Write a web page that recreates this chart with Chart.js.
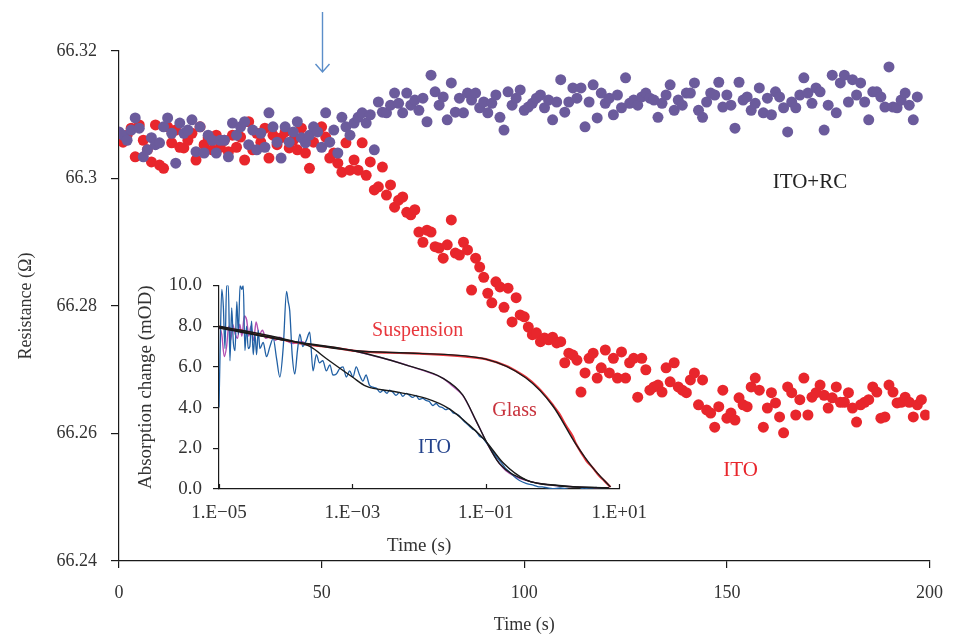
<!DOCTYPE html>
<html>
<head>
<meta charset="utf-8">
<script src="https://cdn.jsdelivr.net/npm/chart.js@4.4.1/dist/chart.umd.min.js"></script>
<style>
  html, body { margin: 0; padding: 0; background: #fff; }
  #wrap { position: relative; width: 957px; height: 637px; }
  #mainChart { position: absolute; left: 0; top: 0; }
  #insetChart { position: absolute; left: 120px; top: 263px; }
</style>
</head>
<body>
<div id="wrap">
  <canvas id="mainChart" width="957" height="637"></canvas>
  <canvas id="insetChart" width="540" height="301"></canvas>
</div>
<script>
// Main chart: resistance vs time, one reading per second
const timeS = [
  0,1,2,3,4,5,6,7,8,9,10,11,12,13,14,15,16,17,18,19,
  20,21,22,23,24,25,26,27,28,29,30,31,32,33,34,35,36,37,38,39,
  40,41,42,43,44,45,46,47,48,49,50,51,52,53,54,55,56,57,58,59,
  60,61,62,63,64,65,66,67,68,69,70,71,72,73,74,75,76,77,78,79,
  80,81,82,83,84,85,86,87,88,89,90,91,92,93,94,95,96,97,98,99,
  100,101,102,103,104,105,106,107,108,109,110,111,112,113,114,115,116,117,118,119,
  120,121,122,123,124,125,126,127,128,129,130,131,132,133,134,135,136,137,138,139,
  140,141,142,143,144,145,146,147,148,149,150,151,152,153,154,155,156,157,158,159,
  160,161,162,163,164,165,166,167,168,169,170,171,172,173,174,175,176,177,178,179,
  180,181,182,183,184,185,186,187,188,189,190,191,192,193,194,195,196,197,198,199
]

// ITO+RC (purple)
const itoRcOhm = [
  66.3073,66.3068,66.3060,66.3076,66.3095,66.3079,66.3034,66.3045,66.3064,66.3053,
  66.3056,66.3081,66.3095,66.3071,66.3024,66.3087,66.3071,66.3076,66.3092,66.3042,
  66.3081,66.3040,66.3068,66.3060,66.3040,66.3060,66.3060,66.3034,66.3087,66.3068,
  66.3081,66.3089,66.3053,66.3076,66.3045,66.3071,66.3049,66.3103,66.3081,66.3057,
  66.3032,66.3081,66.3057,66.3073,66.3089,66.3064,66.3056,66.3068,66.3081,66.3073,
  66.3049,66.3103,66.3057,66.3076,66.3040,66.3096,66.3081,66.3068,66.3087,66.3096,
  66.3103,66.3087,66.3100,66.3045,66.3120,66.3104,66.3103,66.3115,66.3134,66.3118,
  66.3103,66.3134,66.3115,66.3123,66.3107,66.3126,66.3089,66.3162,66.3136,66.3115,
  66.3128,66.3092,66.3150,66.3104,66.3126,66.3103,66.3134,66.3123,66.3134,66.3111,
  66.3120,66.3103,66.3118,66.3131,66.3096,66.3076,66.3136,66.3115,66.3126,66.3139,
  66.3107,66.3112,66.3118,66.3126,66.3131,66.3111,66.3123,66.3092,66.3120,66.3155,
  66.3104,66.3120,66.3142,66.3126,66.3142,66.3081,66.3120,66.3147,66.3095,66.3134,
  66.3118,66.3126,66.3100,66.3131,66.3111,66.3158,66.3118,66.3123,66.3115,66.3128,
  66.3134,66.3126,66.3123,66.3096,66.3118,66.3131,66.3147,66.3107,66.3123,66.3115,
  66.3134,66.3134,66.3150,66.3107,66.3096,66.3120,66.3134,66.3131,66.3151,66.3112,
  66.3131,66.3115,66.3079,66.3151,66.3123,66.3128,66.3107,66.3118,66.3142,66.3103,
  66.3126,66.3100,66.3136,66.3128,66.3111,66.3073,66.3120,66.3111,66.3131,66.3158,
  66.3134,66.3118,66.3142,66.3136,66.3076,66.3115,66.3162,66.3103,66.3150,66.3162,
  66.3120,66.3155,66.3131,66.3150,66.3120,66.3092,66.3136,66.3136,66.3128,66.3112,
  66.3175,66.3112,66.3111,66.3123,66.3134,66.3115,66.3092,66.3128
]

// ITO (red)
const itoOhm = [
  66.3064,66.3057,66.3068,66.3079,66.3034,66.3084,66.3060,66.3045,66.3026,66.3084,
  66.3021,66.3016,66.3081,66.3056,66.3076,66.3049,66.3048,66.3060,66.3071,66.3029,
  66.3081,66.3053,66.3064,66.3045,66.3068,66.3049,66.3060,66.3042,66.3068,66.3049,
  66.3065,66.3029,66.3089,66.3045,66.3071,66.3057,66.3079,66.3032,66.3068,66.3053,
  66.3064,66.3073,66.3048,66.3060,66.3045,66.3079,66.3040,66.3016,66.3057,66.3076,
  66.3081,66.3065,66.3032,66.3040,66.3024,66.3010,66.3056,66.3013,66.3029,66.3013,
  66.3056,66.3005,66.3026,66.2982,66.2987,66.3018,66.2974,66.2990,66.2955,66.2966,
  66.2971,66.2947,66.2943,66.2951,66.2916,66.2900,66.2919,66.2916,66.2893,66.2891,
  66.2875,66.2896,66.2935,66.2883,66.2880,66.2900,66.2888,66.2825,66.2875,66.2861,
  66.2845,66.2820,66.2805,66.2838,66.2830,66.2798,66.2828,66.2775,66.2813,66.2786,
  66.2783,66.2767,66.2755,66.2758,66.2744,66.2750,66.2747,66.2751,66.2742,66.2744,
  66.2711,66.2726,66.2723,66.2715,66.2665,66.2695,66.2718,66.2726,66.2687,66.2703,
  66.2731,66.2695,66.2718,66.2687,66.2728,66.2687,66.2711,66.2718,66.2657,66.2718,
  66.2700,66.2668,66.2673,66.2676,66.2665,66.2703,66.2681,66.2711,66.2673,66.2668,
  66.2664,66.2684,66.2695,66.2645,66.2684,66.2637,66.2632,66.2610,66.2642,66.2668,
  66.2624,66.2632,66.2621,66.2656,66.2645,66.2642,66.2673,66.2687,66.2668,66.2610,
  66.2640,66.2664,66.2648,66.2626,66.2601,66.2673,66.2664,66.2629,66.2653,66.2687,
  66.2629,66.2657,66.2664,66.2676,66.2660,66.2640,66.2656,66.2673,66.2649,66.2649,
  66.2664,66.2640,66.2618,66.2645,66.2649,66.2653,66.2673,66.2665,66.2624,66.2626,
  66.2676,66.2665,66.2648,66.2649,66.2657,66.2649,66.2626,66.2645,66.2653,66.2629
]

const xTicks = [0, 50, 100, 150, 200]
const yTicks = [66.24, 66.26, 66.28, 66.30, 66.32]
const yTickLabels = ["66.24", "66.26", "66.28", "66.3", "66.32"]
const arrowTime = 50

// Inset: absorption change vs time (log scale)
const insetXTicks = [1e-5, 1e-3, 1e-1, 1e1]
const insetXTickLabels = ["1.E\u221205", "1.E\u221203", "1.E\u221201", "1.E+01"]
const insetYTicks = [0, 2, 4, 6, 8, 10]
const insetYTickLabels = ["0.0", "2.0", "4.0", "6.0", "8.0", "10.0"]

const itoAbsTime = [
  1.0e-5,1.035e-5,1.1e-5,1.16e-5,1.23e-5,1.3e-5,1.38e-5,1.46e-5,1.55e-5,1.64e-5,
  1.74e-5,1.85e-5,1.95e-5,2.07e-5,2.2e-5,2.31e-5,2.45e-5,2.59e-5,2.74e-5,2.9e-5,
  3.08e-5,3.26e-5,3.46e-5,3.66e-5,3.88e-5,4.1e-5,4.6e-5,5.16e-5,5.8e-5,6.49e-5,
  7.3e-5,8.17e-5,9.2e-5,1.03e-4,1.09e-4,1.15e-4,1.25e-4,1.37e-4,1.5e-4,1.63e-4,
  1.8e-4,2.04e-4,2.29e-4,2.57e-4,2.88e-4,3.2e-4,3.6e-4,4.07e-4,4.6e-4,5.1e-4,
  5.74e-4,6.4e-4,7.23e-4,8.1e-4,9.08e-4,1.02e-3,1.14e-3,1.28e-3,1.44e-3,1.6e-3,
  1.8e-3,2.03e-3,2.3e-3,2.6e-3,2.9e-3,3.3e-3,3.6e-3,4.04e-3,4.5e-3,5.1e-3,
  5.7e-3,6.4e-3,7.16e-3,8e-3,9e-3,1.0e-2,1.13e-2,1.27e-2,1.42e-2,1.6e-2,
  1.8e-2,2.0e-2,2.25e-2,2.5e-2,2.8e-2,3.2e-2,3.55e-2,4.0e-2,4.5e-2,5.0e-2,
  5.6e-2,6.3e-2,7.1e-2,8e-2,9e-2,0.1,0.113,0.127,0.142,0.16,
  0.18,0.2,0.225,0.25,0.28,0.32,0.4,0.5,0.6,0.7,
  0.85,1.0,1.3,1.6,2.0,2.22,2.5,3.0,3.5,3.94,
  4.5,5.5,7.0
]
const itoAbs = [
  4.0,6.5,9.8,9.0,6.9,10.0,10.0,6.3,8.9,7.2,
  6.8,9.2,7.6,10.0,9.8,10.0,6.8,8.0,6.9,7.0,
  8.25,6.6,7.6,6.6,7.8,6.9,7.2,6.5,7.0,7.4,
  6.4,5.5,7.0,9.7,9.2,8.75,6.6,5.65,6.8,7.6,
  7.0,7.3,7.7,5.8,6.6,6.2,6.3,5.8,6.1,5.6,
  5.65,5.9,6.0,5.5,5.8,5.5,6.0,5.6,5.3,5.6,
  5.1,5.0,4.95,4.75,4.85,4.7,4.85,4.75,4.6,4.75,
  4.55,4.7,4.6,4.5,4.6,4.4,4.45,4.35,4.3,4.1,
  4.2,4.05,4.0,3.9,3.95,3.75,3.7,3.6,3.4,3.25,
  3.1,2.95,2.85,2.6,2.5,2.3,2.1,1.85,1.6,1.4,
  1.2,1.0,0.85,0.7,0.55,0.42,0.28,0.2,0.12,0.1,
  0.05,0.02,0.05,0.0,-0.1,-0.18,-0.05,0.05,0.0,0.03,
  0.08,0.02,0.03
]

const glassAbsTime = [
  1.0e-5,1.1e-5,1.2e-5,1.3e-5,1.4e-5,1.5e-5,1.6e-5,1.75e-5,1.9e-5,2.05e-5,
  2.2e-5,2.4e-5,2.6e-5,2.8e-5,3.0e-5,3.3e-5,3.6e-5,4.0e-5,4.5e-5,5e-5,
  6e-5,7e-5,8e-5,1e-4,1.3e-4,1.7e-4,2.2e-4,3e-4,5e-4,1e-3,
  2e-3,4e-3,7e-3,1.2e-2,2.25e-2,3.2e-2,4.5e-2,5.6e-2,7.1e-2,8.5e-2,
  0.1,0.13,0.16,0.2,0.28,0.4,0.6,1.0,1.8,3.0,
  5.0,7.0
]
const glassAbs = [
  8.0,7.6,6.5,7.0,8.0,7.3,8.1,7.6,7.4,8.1,
  7.5,8.5,8.3,7.5,8.0,7.3,8.2,7.6,7.8,7.4,
  7.5,7.3,7.45,7.3,7.15,7.25,7.1,7.05,6.95,6.8,
  6.55,6.3,6.05,5.8,5.45,5.05,4.6,4.05,3.35,2.85,
  2.35,1.7,1.25,0.9,0.6,0.42,0.28,0.18,0.12,0.08,
  0.05,0.06
]

const suspAbsTime = [
  1e-5,2e-5,5e-5,1e-4,2e-4,5e-4,1e-3,2e-3,5e-3,1e-2,
  2e-2,5e-2,0.1,0.2,0.3,0.4,0.6,0.8,1.0,1.26,
  1.6,2.0,2.24,2.8,3.2,4.0,5.0,6.0,7.4
]
const suspAbs = [
  7.96,7.8,7.5,7.3,7.1,6.95,6.8,6.72,6.68,6.65,
  6.6,6.5,6.38,6.05,5.75,5.49,5.0,4.55,4.15,3.7,
  3.1,2.6,2.23,1.7,1.4,1.05,0.65,0.4,0.1
]

// Fitted curves (black)
const itoFitTime = [1e-5,1e-4,2.3e-4,4.1e-4,1e-3,1.6e-3,4e-3,1.27e-2,2.8e-2,5.6e-2,0.1,0.18,0.4,1.25,7]
const itoFit = [8.0,7.35,7.0,6.4,5.5,5.05,4.8,4.45,3.95,3.15,2.35,1.3,0.45,0.18,0.03]
const glassFitTime = [1e-5,1e-4,1e-3,7e-3,2.25e-2,4.5e-2,7.1e-2,0.1,0.16,0.4,1.25,7]
const glassFit = [7.9,7.3,6.8,6.05,5.45,4.62,3.37,2.38,1.25,0.44,0.15,0.06]
const suspFitTime = [1e-5,1e-4,1e-3,1e-2,0.1,0.4,1.0,2.24,4.0,7.4]
const suspFit = [7.96,7.3,6.8,6.66,6.38,5.45,4.1,2.2,1.05,0.1]

const SERIF = "'Liberation Serif', 'DejaVu Serif', serif"
const TEXT = "#333333"
const AXIS = "#1a1a1a"

const pts = (xs, ys) => ys.map((y, i) => ({ x: xs[i], y: y }))

// Text labels and the marker arrow
const mainOverlay = {
  id: "mainOverlay",
  afterDraw(chart) {
    const ctx = chart.ctx
    const xs = chart.scales.x
    const ys = chart.scales.y
    ctx.save()
    // arrow
    const ax = Math.round(xs.getPixelForValue(arrowTime)) + 0.5
    ctx.strokeStyle = "#5b8ec9"
    ctx.lineWidth = 1.4
    ctx.beginPath()
    ctx.moveTo(ax, 12)
    ctx.lineTo(ax, 72)
    ctx.moveTo(ax - 7, 64)
    ctx.lineTo(ax, 72)
    ctx.lineTo(ax + 7, 64)
    ctx.stroke()
    // labels
    ctx.font = "21px " + SERIF
    ctx.textAlign = "center"
    ctx.textBaseline = "middle"
    ctx.fillStyle = "#222222"
    ctx.fillText("ITO+RC", xs.getPixelForValue(170.5), ys.getPixelForValue(66.2993))
    ctx.fillStyle = "#e8262c"
    ctx.fillText("ITO", xs.getPixelForValue(153.4), ys.getPixelForValue(66.2542))
    ctx.restore()
  },
}

new Chart(document.getElementById("mainChart"), {
  type: "scatter",
  data: {
    datasets: [
      {
        label: "ITO+RC",
        data: pts(timeS, itoRcOhm),
        backgroundColor: "#6b5b9c",
        borderWidth: 0,
        pointRadius: 5.5,
        pointHoverRadius: 5.5,
      },
      {
        label: "ITO",
        data: pts(timeS, itoOhm),
        backgroundColor: "#e8262c",
        borderWidth: 0,
        pointRadius: 5.5,
        pointHoverRadius: 5.5,
      },
    ],
  },
  options: {
    responsive: false,
    animation: false,
    layout: { padding: { left: 0, top: 51, right: 18, bottom: 0 } },
    plugins: { legend: { display: false }, tooltip: { enabled: false } },
    scales: {
      x: {
        type: "linear",
        min: 0,
        max: 200,
        afterBuildTicks: (scale) => { scale.ticks = xTicks.map((v) => ({ value: v })) },
        afterFit: (scale) => { scale.height = 76 },
        ticks: { font: { family: SERIF, size: 18 }, color: TEXT, padding: 14, maxRotation: 0 },
        grid: { drawOnChartArea: false, drawTicks: true, tickLength: 7, color: AXIS, lineWidth: 1.2 },
        border: { display: true, color: AXIS, width: 1.2 },
        title: { display: true, text: "Time (s)", font: { family: SERIF, size: 18 }, color: TEXT, padding: { top: 0, bottom: 1 } },
      },
      y: {
        type: "linear",
        min: 66.24,
        max: 66.32,
        afterBuildTicks: (scale) => { scale.ticks = yTicks.map((v) => ({ value: v })) },
        afterFit: (scale) => { scale.width = 119 },
        ticks: {
          font: { family: SERIF, size: 18 },
          color: TEXT,
          padding: 14,
          callback: (value, index) => yTickLabels[index],
        },
        grid: { drawOnChartArea: false, drawTicks: true, tickLength: 8, color: AXIS, lineWidth: 1.2 },
        border: { display: true, color: AXIS, width: 1.2 },
        title: { display: true, text: "Resistance (\u03a9)", font: { family: SERIF, size: 18 }, color: TEXT, padding: { top: 15, bottom: 0 } },
      },
    },
  },
  plugins: [mainOverlay],
})

// Inset labels and inward x ticks
const insetOverlay = {
  id: "insetOverlay",
  afterDraw(chart) {
    const ctx = chart.ctx
    const xs = chart.scales.x
    const ys = chart.scales.y
    ctx.save()
    ctx.strokeStyle = AXIS
    ctx.lineWidth = 1.2
    ctx.beginPath()
    insetXTicks.forEach((t) => {
      const px = Math.round(xs.getPixelForValue(t)) + 0.5
      ctx.moveTo(px, ys.bottom)
      ctx.lineTo(px, ys.bottom - 5)
    })
    ctx.stroke()
    ctx.font = "20px " + SERIF
    ctx.textAlign = "center"
    ctx.textBaseline = "middle"
    ctx.fillStyle = "#e8363c"
    ctx.fillText("Suspension", xs.getPixelForValue(9.5e-3), ys.getPixelForValue(7.77))
    ctx.fillStyle = "#c8323c"
    ctx.fillText("Glass", xs.getPixelForValue(0.27), ys.getPixelForValue(3.86))
    ctx.fillStyle = "#24438c"
    ctx.fillText("ITO", xs.getPixelForValue(0.017), ys.getPixelForValue(2.05))
    ctx.restore()
  },
}

const lineSet = (label, xs, ys, color, width, order) => ({
  label: label,
  data: pts(xs, ys),
  borderColor: color,
  borderWidth: width,
  pointRadius: 0,
  fill: false,
  cubicInterpolationMode: "monotone",
  order: order,
})

new Chart(document.getElementById("insetChart"), {
  type: "line",
  data: {
    datasets: [
      lineSet("Suspension", suspAbsTime, suspAbs, "#e8363c", 2.2, 2),
      lineSet("Glass", glassAbsTime, glassAbs, "#b452b4", 1.4, 2),
      lineSet("ITO", itoAbsTime, itoAbs, "#2160a4", 1.3, 1),
      lineSet("Suspension fit", suspFitTime, suspFit, "#1a1a1a", 1.4, 0),
      lineSet("Glass fit", glassFitTime, glassFit, "#1a1a1a", 1.4, 0),
      lineSet("ITO fit", itoFitTime, itoFit, "#1a1a1a", 1.4, 0),
    ],
  },
  options: {
    responsive: false,
    animation: false,
    layout: { padding: { left: 0, top: 0, right: 40, bottom: 0 } },
    plugins: { legend: { display: false }, tooltip: { enabled: false } },
    scales: {
      x: {
        type: "logarithmic",
        min: 1e-5,
        max: 10,
        afterBuildTicks: (scale) => { scale.ticks = insetXTicks.map((v) => ({ value: v })) },
        afterFit: (scale) => { scale.height = 75 },
        ticks: {
          font: { family: SERIF, size: 19 },
          color: TEXT,
          padding: 13,
          maxRotation: 0,
          callback: (value, index) => insetXTickLabels[index],
        },
        grid: { drawOnChartArea: false, drawTicks: false },
        border: { display: true, color: AXIS, width: 1.2 },
        title: { display: true, text: "Time (s)", font: { family: SERIF, size: 19 }, color: TEXT, padding: { top: 0, bottom: 7 } },
      },
      y: {
        type: "linear",
        min: 0,
        max: 10,
        afterBuildTicks: (scale) => { scale.ticks = insetYTicks.map((v) => ({ value: v })) },
        afterFit: (scale) => { scale.width = 99 },
        ticks: {
          font: { family: SERIF, size: 19 },
          color: TEXT,
          padding: 11,
          callback: (value, index) => insetYTickLabels[index],
        },
        grid: { drawOnChartArea: false, drawTicks: true, tickLength: 6, color: AXIS, lineWidth: 1.2 },
        border: { display: true, color: AXIS, width: 1.2 },
        title: { display: true, text: "Absorption change (mOD)", font: { family: SERIF, size: 19 }, color: TEXT, padding: { top: 15, bottom: 0 } },
      },
    },
  },
  plugins: [insetOverlay],
})
</script>
</body>
</html>
